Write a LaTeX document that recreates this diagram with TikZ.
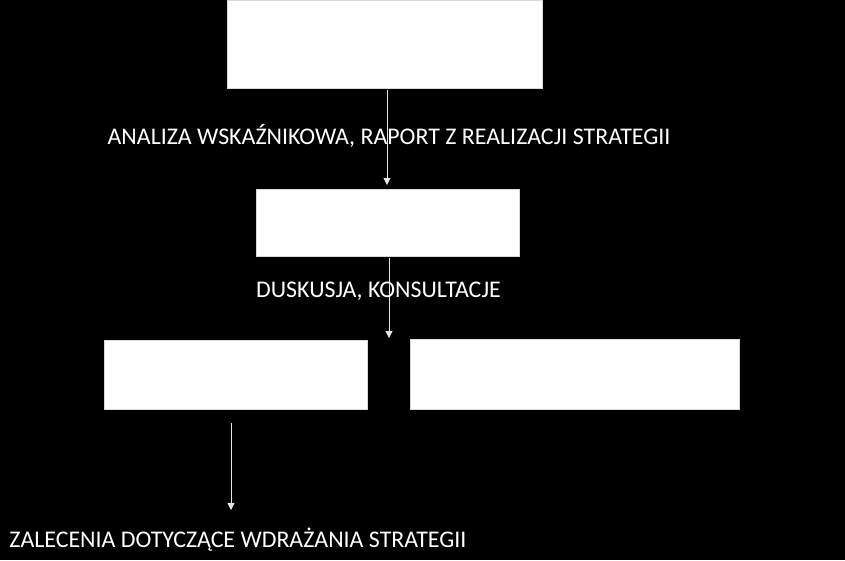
\documentclass[tikz,border=0pt]{standalone}
\usepackage{fontspec}
\setmainfont{Carlito}
\usetikzlibrary{arrows.meta}
\begin{document}
\begin{tikzpicture}[x=1pt,y=-1pt,
  box/.style={draw=white!85!black, line width=0.6pt, fill=white},
  lbl/.style={text=white, font=\fontsize{23.9}{28}\selectfont, inner sep=0pt, anchor=center},
  conn/.style={draw=white!90!black, line width=0.9pt, -{Triangle[width=7pt,length=7pt]}}]
\fill[black] (0,0) rectangle (845,560);
\useasboundingbox (0,0) rectangle (845,560);
\path[box] (227,0.5) rectangle (542,88);
\path[box] (256,189) rectangle (519,256);
\path[box] (104,340) rectangle (367,409);
\path[box] (410,339) rectangle (739,409);
\coordinate (a1s) at (387,90);
\coordinate (a1e) at (387,185);
\coordinate (a2s) at (389,258);
\coordinate (a2e) at (389,338);
\coordinate (a3s) at (231,423);
\coordinate (a3e) at (231,510);
\draw[conn] (a1s) -- (a1e);
\draw[conn] (a2s) -- (a2e);
\draw[conn] (a3s) -- (a3e);
\node[lbl] (t1) at (389,136) {ANALIZA WSKAŹNIKOWA, RAPORT Z REALIZACJI STRATEGII};
\node[lbl] (t2) at (378.5,291) {DUSKUSJA, KONSULTACJE};
\node[lbl] (t3) at (238,540) {ZALECENIA DOTYCZĄCE WDRAŻANIA STRATEGII};
\end{tikzpicture}
\end{document}
